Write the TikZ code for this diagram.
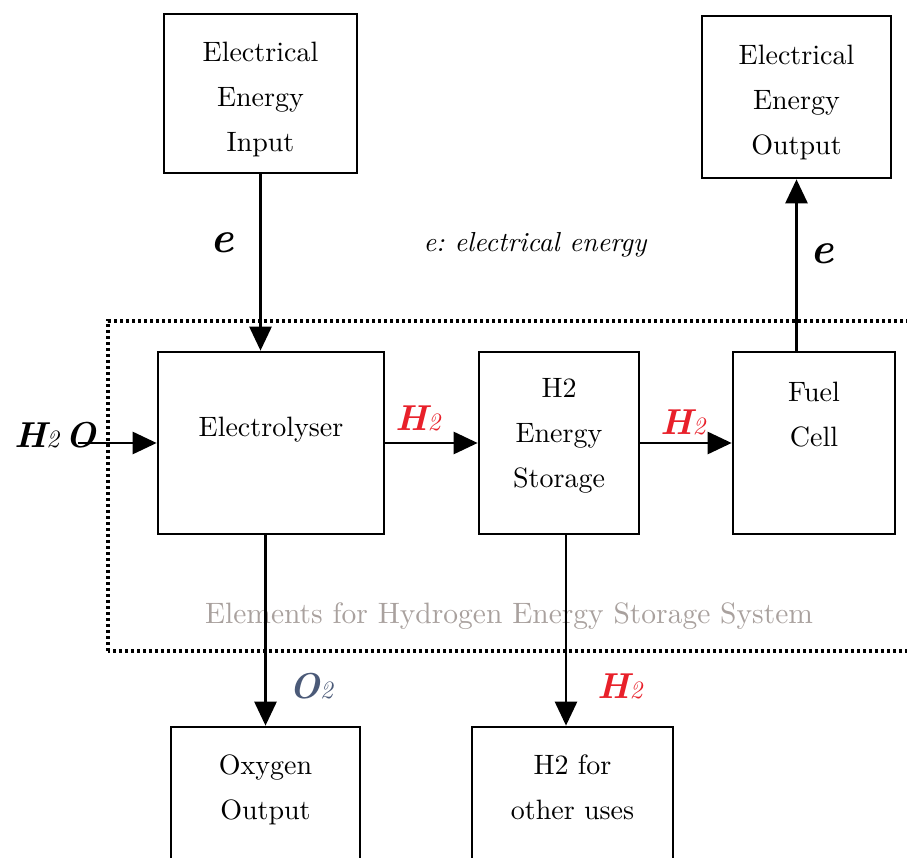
\documentclass[tikz,border=0pt]{standalone}
\usepackage{fontspec}
\setmainfont{lmroman10-regular.otf}[BoldFont=lmroman10-bold.otf,ItalicFont=lmroman10-italic.otf,BoldItalicFont=lmroman10-bolditalic.otf]
\usepackage{xcolor}
\usepackage{tikz}
\usetikzlibrary{arrows.meta}
\definecolor{HSRed}{HTML}{E8202A}
\definecolor{HSSlate}{HTML}{4B5A78}
\definecolor{HSGrey}{HTML}{A9A19E}
\newcommand{\boxfont}{\fontsize{28}{45}\selectfont}
\newcommand{\flowfont}{\fontsize{36}{36}\selectfont\bfseries\itshape}
\newcommand{\subtwo}{{\fontsize{25}{25}\selectfont\mdseries 2}}

\begin{document}
\begin{tikzpicture}[x=1pt,y=1pt,
  blockbox/.style={draw,line width=2.7pt,align=center,inner sep=0pt,font=\boxfont},
  flow/.style={line width=2.7pt,-{Triangle[length=24pt,width=22pt]}},
  flowlabel/.style={font=\flowfont},
  elabel/.style={font=\fontsize{44}{44}\selectfont\bfseries\itshape},
  systemline/.style={line width=3.1pt,dash pattern=on 3pt off 3pt},
  systemtext/.style={text=HSGrey,font=\fontsize{29.5}{29.5}\selectfont}]
\path[use as bounding box] (0,0) rectangle (907,857);
\draw[systemline] (108,206) rectangle (940,536);
\node[systemtext] (systitle) at (509,241) {Elements for Hydrogen Energy Storage System};
\node[blockbox,minimum width=193pt,minimum height=159pt,text height=121pt] (ein) at (260.5,763.5) {Electrical\\Energy\\Input};
\node[blockbox,minimum width=189pt,minimum height=162pt,text height=120pt] (eout) at (796.5,760) {Electrical\\Energy\\Output};
\node[blockbox,minimum width=226pt,minimum height=182pt,text depth=32pt] (elec) at (271,414) {Electrolyser};
\node[blockbox,minimum width=160pt,minimum height=182pt,text depth=20pt] (stor) at (559,414) {H2\\Energy\\Storage};
\node[blockbox,minimum width=162pt,minimum height=182pt,text depth=58pt] (fuel) at (814,414) {Fuel\\Cell};
\node[blockbox,minimum width=189pt,minimum height=160pt,text depth=40pt] (oxy) at (265.5,50) {Oxygen\\Output};
\node[blockbox,minimum width=201pt,minimum height=160pt,text depth=40pt] (uses) at (572.5,50) {H2 for\\other uses};
\node[elabel] (elabin) at (222,614) {e};
\node[elabel] (elabout) at (822,603) {e};
\node[font=\fontsize{27.5}{27.5}\selectfont\itshape\frenchspacing] (legend) at (535,612) {e: electrical energy};
\node[flowlabel] (h2o) at (55,422) {H\subtwo\,O};
\node[flowlabel,text=HSRed] (h2a) at (418,439) {H\subtwo};
\node[flowlabel,text=HSRed] (h2b) at (683,435) {H\subtwo};
\node[flowlabel,text=HSRed] (h2c) at (620,171) {H\subtwo};
\node[flowlabel,text=HSSlate] (o2) at (311,171) {O\subtwo};
\coordinate (h2oin) at (78,414);
\coordinate (usetap) at ([xshift=7pt]stor.south);
\draw[flow] (ein.south) -- (ein.south |- elec.north);
\draw[flow] (h2oin) -- (h2oin -| elec.west);
\draw[flow] (elec.east) -- (stor.west);
\draw[flow] (stor.east) -- (fuel.west);
\draw[flow] (eout.south |- fuel.north) -- (eout.south);
\draw[flow] (oxy.north |- elec.south) -- (oxy.north);
\draw[flow] (usetap) -- (usetap |- uses.north);
\end{tikzpicture}
\end{document}
